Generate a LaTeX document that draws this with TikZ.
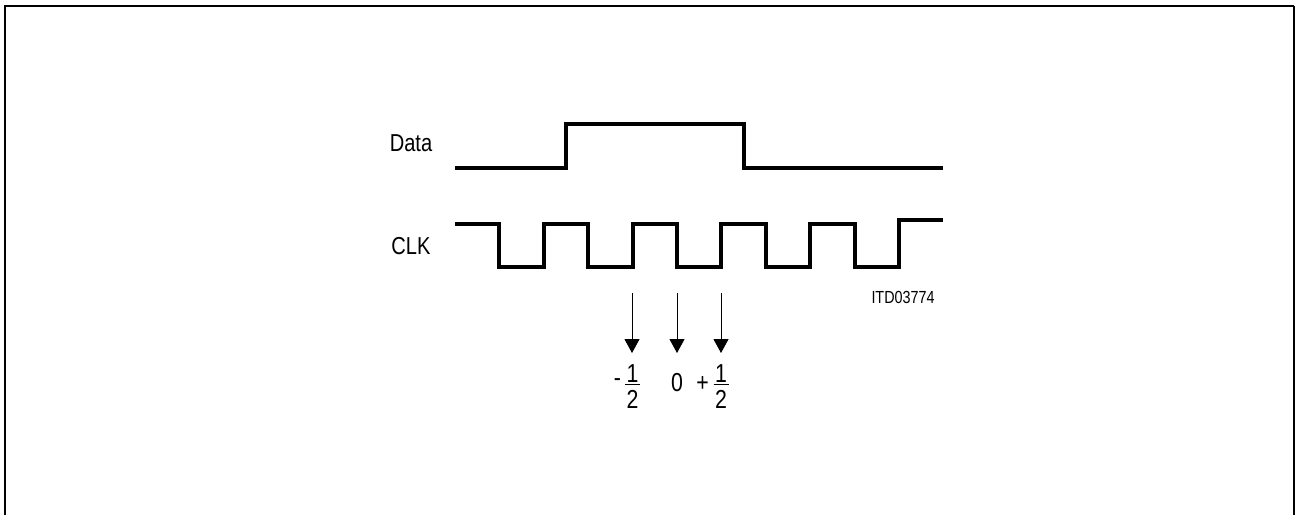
\documentclass[tikz,border=0pt]{standalone}
\usepackage{fontspec}
\setmainfont{Liberation Sans}[FakeStretch=0.82]
\usetikzlibrary{arrows.meta}
\begin{document}
\begin{tikzpicture}[x=1pt,y=-1pt,
  wave/.style={line width=3.8pt,line join=miter,line cap=butt},
  lbl/.style={inner sep=0pt,font=\fontsize{24.5}{26}\selectfont},
  num/.style={inner sep=0pt,font=\fontsize{26}{28}\selectfont},
  small/.style={inner sep=0pt,font=\fontsize{17.5}{19}\selectfont},
  marker/.style={line width=1pt,-{Triangle[width=15pt,length=14pt]}},
  fracbar/.style={line width=1.5pt}]
\useasboundingbox (0,0) rectangle (1295,515);
% frame
\draw[line width=2pt] (5,515) -- (5,6) -- (1294,6);
\draw[line width=1.3pt] (1294,6) -- (1294,515);
% labels
\node[lbl] (data) at (411,143) {Data};
\node[lbl] (clk) at (411,246.5) {CLK};
\node[small] (itd) at (903,297) {ITD03774};
% Data waveform
\draw[wave] (455,168) -- (566,168) -- (566,123.7) -- (744,123.7) -- (744,168) -- (943,168);
% CLK waveform
\draw[wave] (455,223.7) -- (499.3,223.7) -- (499.3,267) -- (543.7,267) -- (543.7,223.7)
  -- (588,223.7) -- (588,267) -- (632.7,267) -- (632.7,223.7)
  -- (677,223.7) -- (677,267) -- (721.3,267) -- (721.3,223.7)
  -- (766,223.7) -- (766,267) -- (810.3,267) -- (810.3,223.7)
  -- (854.7,223.7) -- (854.7,267) -- (899.3,267) -- (899.3,220.3) -- (943,220.3);
% sampling arrows
\coordinate (a1s) at (632,293); \coordinate (a1e) at (632,353);
\coordinate (a2s) at (677,293); \coordinate (a2e) at (677,353);
\coordinate (a3s) at (721,293); \coordinate (a3e) at (721,353);
\draw[marker] (a1s) -- (a1e);
\draw[marker] (a2s) -- (a2e);
\draw[marker] (a3s) -- (a3e);
% -1/2
\node[num] (m) at (617.5,383) {-};
\node[num] (n1) at (632.5,373.5) {1};
\node[num] (d1) at (632.5,399.5) {2};
\coordinate (b1l) at (625,384.5); \coordinate (b1r) at (640,384.5);
\draw[fracbar] (b1l) -- (b1r);
% 0
\node[num] (zero) at (677,382.5) {0};
% +1/2
\node[num] (p) at (702.5,384) {+};
\node[num] (n2) at (721,373.5) {1};
\node[num] (d2) at (721,399.5) {2};
\coordinate (b2l) at (713.5,384.5); \coordinate (b2r) at (728.5,384.5);
\draw[fracbar] (b2l) -- (b2r);
\end{tikzpicture}
\end{document}
